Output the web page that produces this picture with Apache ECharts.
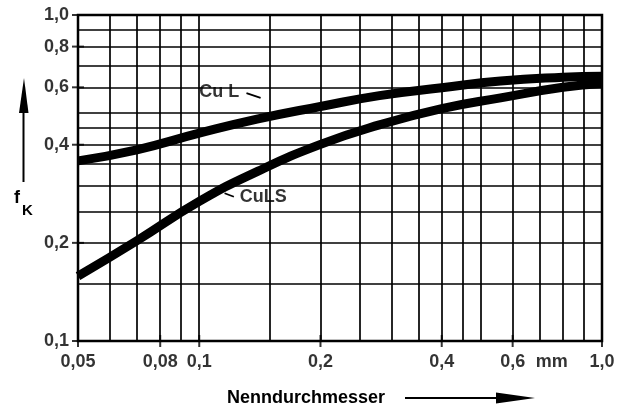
<!DOCTYPE html>
<html>
<head>
<meta charset="utf-8">
<script src="https://cdn.jsdelivr.net/npm/echarts@6/dist/echarts.min.js"></script>
<style>
  html, body { margin: 0; padding: 0; background: #fff; }
  #chart { width: 619px; height: 410px; }
</style>
</head>
<body>
<div id="chart"></div>
<script>
// Nenndurchmesser (mm) and the factor f_K for the two wire types
const diameter = [0.05, 0.07, 0.1, 0.14, 0.2, 0.28, 0.4, 0.56, 0.8, 1.0];
const cuL      = [0.357, 0.386, 0.434, 0.480, 0.524, 0.566, 0.598, 0.627, 0.644, 0.649];
const cuLS     = [0.158, 0.203, 0.268, 0.332, 0.401, 0.460, 0.516, 0.557, 0.600, 0.616];

// log paper grid
const xGridLines = [0.05, 0.06, 0.07, 0.08, 0.09, 0.1, 0.15, 0.2, 0.25, 0.3, 0.35, 0.4, 0.45, 0.5, 0.6, 0.7, 0.8, 0.9, 1.0];
const yGridLines = [0.1, 0.15, 0.2, 0.25, 0.3, 0.35, 0.4, 0.45, 0.5, 0.6, 0.7, 0.8, 0.9, 1.0];

// labelled ticks
const xTickValues = [0.05, 0.08, 0.1, 0.2, 0.4, 0.6, 1.0];
const xTickText   = ['0,05', '0,08', '0,1', '0,2', '0,4', '0,6', '1,0'];
const yTickValues = [0.1, 0.2, 0.4, 0.6, 0.8, 1.0];
const yTickText   = ['0,1', '0,2', '0,4', '0,6', '0,8', '1,0'];

const FONT = "'Liberation Sans', Arial, sans-serif";
const INK = '#000';

const chart = echarts.init(document.getElementById('chart'), null, { renderer: 'canvas' });

const tickLabel = {
  show: true, formatter: '{b}', color: INK,
  fontFamily: FONT, fontWeight: 'bold', fontSize: 18
};

const curveStyle = { color: INK, width: 9, cap: 'butt', join: 'round' };

const option = {
  backgroundColor: '#fff',
  animation: false,
  grid: {
    left: 78, right: 17, top: 15, bottom: 69,
    show: true, borderColor: INK, borderWidth: 2.5, backgroundColor: 'transparent'
  },
  xAxis: {
    type: 'log', logBase: 10, min: 0.05, max: 1.0,
    axisLine: { show: false }, axisTick: { show: false },
    axisLabel: { show: false }, splitLine: { show: false }
  },
  yAxis: {
    type: 'log', logBase: 10, min: 0.1, max: 1.0,
    axisLine: { show: false }, axisTick: { show: false },
    axisLabel: { show: false }, splitLine: { show: false }
  },
  graphic: [
    // y-axis title with upward arrow
    { type: 'line', shape: { x1: 23.5, y1: 182, x2: 23.5, y2: 108 }, style: { stroke: INK, lineWidth: 2 } },
    { type: 'polygon', shape: { points: [[19, 113], [28.5, 113], [24, 78]] }, style: { fill: INK } },
    { type: 'text', left: 14, top: 189, style: { text: 'f', font: 'bold 18px ' + FONT, fill: INK } },
    { type: 'text', left: 22, top: 203, style: { text: 'K', font: 'bold 15px ' + FONT, fill: INK } },
    // x-axis title with arrow to the right
    { type: 'text', left: 227, top: 389, style: { text: 'Nenndurchmesser', font: 'bold 18px ' + FONT, fill: INK } },
    { type: 'line', shape: { x1: 405, y1: 398, x2: 500, y2: 398 }, style: { stroke: INK, lineWidth: 2 } },
    { type: 'polygon', shape: { points: [[496, 392.5], [535, 398], [496, 403.5]] }, style: { fill: INK } }
  ],
  series: [
    {
      // grid lines of the log paper + labelled x ticks
      name: 'xTicks',
      type: 'scatter',
      clip: false,
      symbol: 'rect',
      symbolSize: [2, 12],
      itemStyle: { color: INK },
      silent: true,
      z: 3,
      data: xTickValues.map((v, i) => ({ value: [v, 0.1], name: xTickText[i] }))
        .concat([{ value: [0.75, 0.1], name: 'mm', symbolSize: 0, label: { distance: 12 } }]),
      label: Object.assign({ position: 'bottom', distance: 6 }, tickLabel),
      markLine: {
        silent: true,
        symbol: ['none', 'none'],
        label: { show: false },
        lineStyle: { color: INK, width: 1.7, type: 'solid' },
        emphasis: { disabled: true },
        data: xGridLines.map(v => ({ xAxis: v })).concat(yGridLines.map(v => ({ yAxis: v })))
      }
    },
    {
      name: 'yTicks',
      type: 'scatter',
      clip: false,
      symbol: 'rect',
      symbolSize: [12, 2],
      itemStyle: { color: INK },
      silent: true,
      z: 3,
      data: yTickValues.map((v, i) => ({ value: [0.05, v], name: yTickText[i] })),
      label: Object.assign({ position: 'left', distance: 3 }, tickLabel)
    },
    {
      name: 'Cu L',
      type: 'line',
      smooth: 0.5,
      showSymbol: false,
      z: 5,
      lineStyle: curveStyle,
      data: diameter.map((d, i) => [d, cuL[i]])
    },
    {
      name: 'CuLS',
      type: 'line',
      smooth: 0.5,
      showSymbol: false,
      z: 5,
      lineStyle: curveStyle,
      data: diameter.map((d, i) => [d, cuLS[i]])
    },
    {
      // curve captions with their short leader strokes
      name: 'captions',
      type: 'scatter',
      symbolSize: 0,
      silent: true,
      z: 6,
      label: Object.assign({}, tickLabel, { position: 'right', distance: 0 }),
      data: [
        { value: [0.1, 0.58], name: 'Cu L' },
        { value: [0.126, 0.277], name: 'CuLS' }
      ],
      markLine: {
        silent: true,
        symbol: ['none', 'none'],
        label: { show: false },
        lineStyle: { color: INK, width: 1.8, type: 'solid' },
        data: [
          [{ coord: [0.131, 0.576] }, { coord: [0.142, 0.557] }],
          [{ coord: [0.1156, 0.284] }, { coord: [0.1219, 0.277] }]
        ]
      }
    }
  ]
};

chart.setOption(option);
</script>
</body>
</html>
